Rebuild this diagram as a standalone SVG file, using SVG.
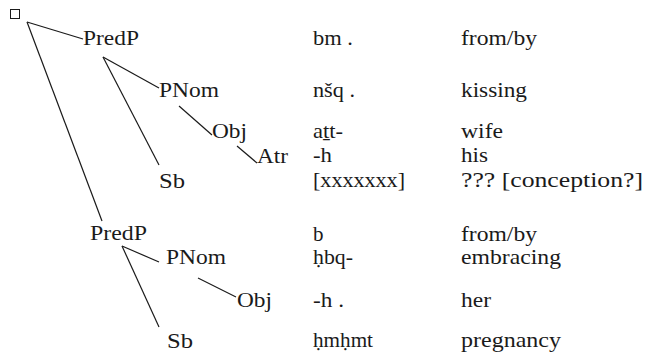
<svg xmlns="http://www.w3.org/2000/svg" width="647" height="355" viewBox="0 0 647 355">
<style>
.t text{font-size:21px;fill:#1a1a1a}
.e{stroke:#1a1a1a;stroke-width:1.2;fill:none}
</style>
<rect width="647" height="355" fill="#fff"/>
<g id="connectors">
<line class="e" x1="27" y1="22" x2="83" y2="39"/>
<line class="e" x1="27" y1="22" x2="102" y2="221"/>
<line class="e" x1="103" y1="57" x2="159" y2="88"/>
<line class="e" x1="103" y1="57" x2="159" y2="165"/>
<line class="e" x1="179" y1="106" x2="212" y2="135"/>
<line class="e" x1="237" y1="146" x2="257" y2="163"/>
<line class="e" x1="122" y1="246" x2="159" y2="262"/>
<line class="e" x1="122" y1="246" x2="159" y2="327"/>
<line class="e" x1="198" y1="278" x2="236" y2="297"/>
</g>
<g id="root"><rect x="10.5" y="9.5" width="9" height="9" fill="none" stroke="#1a1a1a" stroke-width="1"/></g>
<g class="t" font-family="'Liberation Serif', 'Times New Roman', serif">
<g id="predp1"><text x="83" y="45" textLength="56" lengthAdjust="spacingAndGlyphs">PredP</text></g>
<g id="pnom1"><text x="159" y="97" textLength="60" lengthAdjust="spacingAndGlyphs">PNom</text></g>
<g id="obj1"><text x="212" y="138" textLength="35" lengthAdjust="spacingAndGlyphs">Obj</text></g>
<g id="atr1"><text x="257" y="163" textLength="31" lengthAdjust="spacingAndGlyphs">Atr</text></g>
<g id="sb1"><text x="159" y="188" textLength="26" lengthAdjust="spacingAndGlyphs">Sb</text></g>
<g id="predp2"><text x="90" y="240" textLength="57" lengthAdjust="spacingAndGlyphs">PredP</text></g>
<g id="pnom2"><text x="166" y="264" textLength="60" lengthAdjust="spacingAndGlyphs">PNom</text></g>
<g id="obj2"><text x="237" y="307" textLength="35" lengthAdjust="spacingAndGlyphs">Obj</text></g>
<g id="sb2"><text x="167" y="348" textLength="26" lengthAdjust="spacingAndGlyphs">Sb</text></g>
<g id="words">
<text x="313" y="45" textLength="40" lengthAdjust="spacingAndGlyphs">bm .</text>
<text x="313" y="97" textLength="42" lengthAdjust="spacingAndGlyphs">nšq .</text>
<text x="313" y="138" textLength="30" lengthAdjust="spacingAndGlyphs">aṯt-</text>
<text x="313" y="162" textLength="19" lengthAdjust="spacingAndGlyphs">-h</text>
<text x="313" y="187" textLength="92" lengthAdjust="spacingAndGlyphs">[xxxxxxx]</text>
<text x="313" y="241">b</text>
<text x="313" y="264" textLength="40" lengthAdjust="spacingAndGlyphs">ḥbq-</text>
<text x="313" y="307" textLength="31" lengthAdjust="spacingAndGlyphs">-h .</text>
<text x="313" y="347" textLength="60" lengthAdjust="spacingAndGlyphs">ḥmḥmt</text>
</g>
<g id="glosses">
<text x="461" y="45" textLength="76" lengthAdjust="spacingAndGlyphs">from/by</text>
<text x="461" y="97" textLength="66" lengthAdjust="spacingAndGlyphs">kissing</text>
<text x="461" y="138" textLength="42" lengthAdjust="spacingAndGlyphs">wife</text>
<text x="461" y="162" textLength="27" lengthAdjust="spacingAndGlyphs">his</text>
<text x="461" y="187" textLength="182" lengthAdjust="spacingAndGlyphs">??? [conception?]</text>
<text x="461" y="241" textLength="76" lengthAdjust="spacingAndGlyphs">from/by</text>
<text x="461" y="264" textLength="100" lengthAdjust="spacingAndGlyphs">embracing</text>
<text x="461" y="307" textLength="30" lengthAdjust="spacingAndGlyphs">her</text>
<text x="461" y="347" textLength="100" lengthAdjust="spacingAndGlyphs">pregnancy</text>
</g>
</g>
</svg>
